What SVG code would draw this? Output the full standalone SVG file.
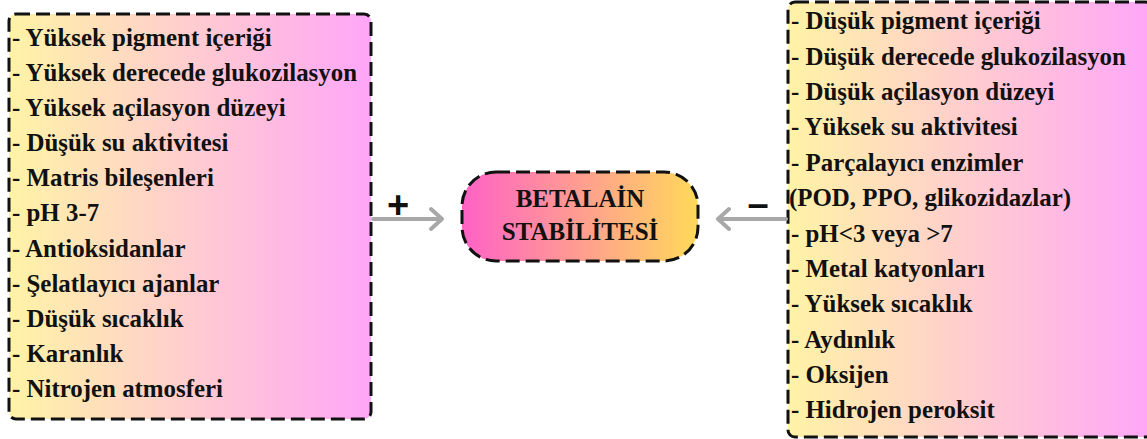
<svg xmlns="http://www.w3.org/2000/svg" width="1147" height="439" viewBox="0 0 1147 439">
<style>
.box{stroke:#111;stroke-width:3;stroke-dasharray:14 6;}
.t{font-family:"Liberation Serif","Times New Roman",serif;font-weight:bold;font-size:24.9px;fill:#111;}
.c{font-family:"Liberation Serif","Times New Roman",serif;font-weight:bold;font-size:25px;fill:#111;text-anchor:middle;}
.sign{font-family:"Liberation Sans",Arial,sans-serif;font-weight:bold;font-size:38px;fill:#111;text-anchor:middle;}
.conn{stroke:#A8A8A8;stroke-width:4;fill:none;stroke-linecap:round;stroke-linejoin:round;}
</style>
<defs>
<linearGradient id="gSide" x1="0" y1="0" x2="1" y2="0">
<stop offset="0" stop-color="#FFF3A6"/>
<stop offset="1" stop-color="#FFA6F8"/>
</linearGradient>
<linearGradient id="gCenter" x1="0" y1="0" x2="1" y2="0">
<stop offset="0" stop-color="#FF62C6"/>
<stop offset="1" stop-color="#FFD95A"/>
</linearGradient>
</defs>
<rect width="1147" height="439" fill="#FFFFFF"/>
<g id="left-box">
<rect class="box" x="9" y="14" width="362" height="405" rx="7" fill="url(#gSide)"/>
<text class="t" x="12" y="46">- Yüksek pigment içeriği</text>
<text class="t" x="12" y="81">- Yüksek derecede glukozilasyon</text>
<text class="t" x="12" y="116">- Yüksek açilasyon düzeyi</text>
<text class="t" x="12" y="151">- Düşük su aktivitesi</text>
<text class="t" x="12" y="186">- Matris bileşenleri</text>
<text class="t" x="12" y="221">- pH 3-7</text>
<text class="t" x="12" y="256.5">- Antioksidanlar</text>
<text class="t" x="12" y="291.5">- Şelatlayıcı ajanlar</text>
<text class="t" x="12" y="326.5">- Düşük sıcaklık</text>
<text class="t" x="12" y="361.5">- Karanlık</text>
<text class="t" x="12" y="397">- Nitrojen atmosferi</text>
</g>
<g id="center-node">
<rect class="box" x="462" y="172" width="236" height="89" rx="34" fill="url(#gCenter)"/>
<text class="c" x="580" y="207">BETALAİN</text>
<text class="c" x="580" y="240">STABİLİTESİ</text>
</g>
<g id="right-box">
<rect class="box" x="788" y="2" width="364" height="435" rx="7" fill="url(#gSide)"/>
<text class="t" x="791" y="29">- Düşük pigment içeriği</text>
<text class="t" x="791" y="64.5">- Düşük derecede glukozilasyon</text>
<text class="t" x="791" y="100">- Düşük açilasyon düzeyi</text>
<text class="t" x="791" y="135">- Yüksek su aktivitesi</text>
<text class="t" x="791" y="170.5">- Parçalayıcı enzimler</text>
<text class="t" x="789" y="206">(POD, PPO, glikozidazlar)</text>
<text class="t" x="791" y="241.5">- pH&lt;3 veya &gt;7</text>
<text class="t" x="791" y="277">- Metal katyonları</text>
<text class="t" x="791" y="312">- Yüksek sıcaklık</text>
<text class="t" x="791" y="347.5">- Aydınlık</text>
<text class="t" x="791" y="383">- Oksijen</text>
<text class="t" x="791" y="418">- Hidrojen peroksit</text>
</g>
<g id="connectors">
<path class="conn" d="M373 219 H442 M431 209 L442 219 L431 229"/>
<path class="conn" d="M786 219 H718 M729 209 L718 219 L729 229"/>
<text class="sign" x="398" y="218">+</text>
<text class="sign" x="758" y="217">–</text>
</g>
</svg>
